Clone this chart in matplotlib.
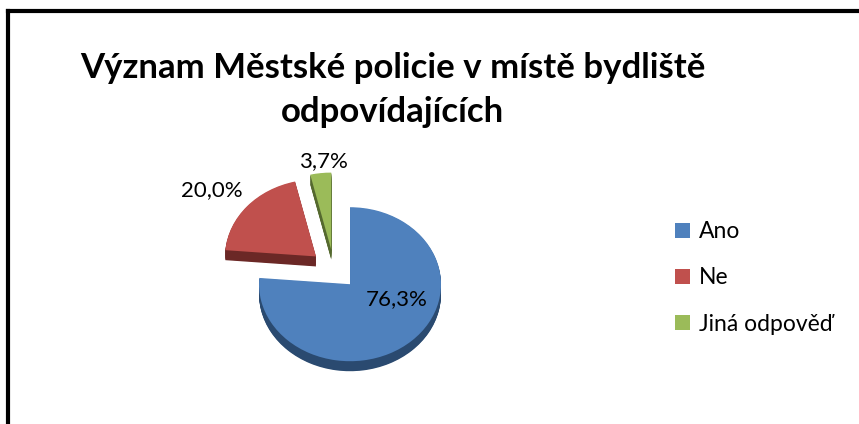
import matplotlib.pyplot as plt
from matplotlib.patches import Patch
from matplotlib.lines import Line2D

labels = ['Ano', 'Ne', 'Jiná odpověď']
values = [76.3, 20.0, 3.7]
colors = ['#4F81BD', '#C0504D', '#9BBB59']
dark = ['#2A4A70', '#6B2826', '#55692F']
explode = [0.26, 0.26, 0.26]
title_lines = ['Význam Městské policie v místě bydliště', 'odpovídajících']

# label positions (data units)
lab_pos = [(0.69, -0.38), (-1.34, 1.03), (-0.12, 1.41)]

fig = plt.figure(figsize=(8.59, 4.24), dpi=100)
ax = fig.add_axes([0.2299, 0.092, 0.3178, 0.5448])

depth = 0.13
n = 14
for k in range(n, 0, -1):
    ax.pie(values, explode=explode, startangle=90, counterclock=False,
           colors=dark, center=(0, -depth * k / n), radius=1,
           wedgeprops=dict(linewidth=0))
ax.pie(values, explode=explode, startangle=90, counterclock=False,
       colors=colors, radius=1, wedgeprops=dict(linewidth=0))
ax.set_aspect('auto')
ax.set_xlim(-1.5, 1.5)
ax.set_ylim(-1.5, 1.5)

for (x, y), v in zip(lab_pos, values):
    ax.text(x, y, f'{v:.1f}%'.replace('.', ','), ha='center', va='center',
            fontsize=16, family='Lato')

fig.text(393 / 859, 1 - 78 / 424, title_lines[0], ha='center', va='baseline',
         fontsize=25, fontweight='bold', family='Lato')
fig.text(393 / 859, 1 - 122 / 424, title_lines[1], ha='center', va='baseline',
         fontsize=25, fontweight='bold', family='Lato')

handles = [Patch(facecolor=c, edgecolor='none') for c in colors]
fig.legend(handles, labels, loc='center left', bbox_to_anchor=(675 / 859, 1 - 278 / 424),
           frameon=False, prop={'family': 'Lato', 'size': 16.5},
           borderpad=0, borderaxespad=0,
           handlelength=0.65, handleheight=0.65, handletextpad=0.4, labelspacing=1.1)

# chart border (left and top)
fig.add_artist(Line2D([7.5 / 859, 7.5 / 859], [0, 1 - 11 / 424], color='black', lw=3,
                      transform=fig.transFigure, solid_capstyle='projecting'))
fig.add_artist(Line2D([7.5 / 859, 1], [1 - 11 / 424, 1 - 11 / 424], color='black', lw=3,
                      transform=fig.transFigure, solid_capstyle='projecting'))

fig.savefig('out.png', dpi=100)
